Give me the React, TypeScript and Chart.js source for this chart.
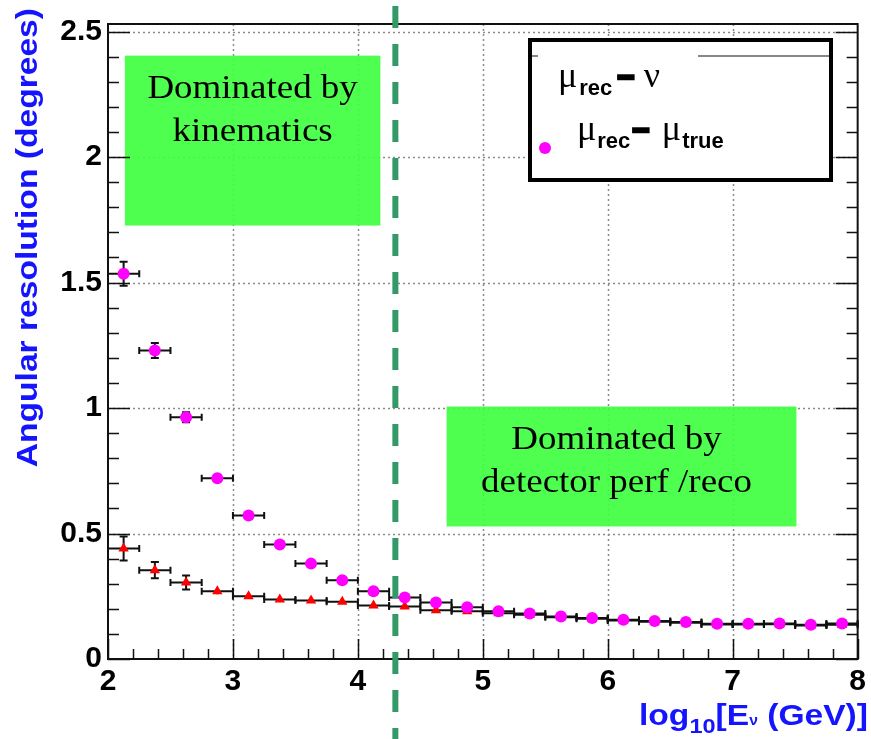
import React, { useEffect, useRef } from 'react';
import { Chart, registerables } from 'chart.js';

Chart.register(...registerables);

// ---- data ----
const energyBins = [2.125, 2.375, 2.625, 2.875, 3.125, 3.375, 3.625, 3.875, 4.125, 4.375, 4.625, 4.875,
  5.125, 5.375, 5.625, 5.875, 6.125, 6.375, 6.625, 6.875, 7.125, 7.375, 7.625, 7.875];
const binHalfWidth = 0.125;
const muRecMuTrue = [1.535, 1.229, 0.963, 0.72, 0.572, 0.456, 0.38, 0.314, 0.27, 0.245, 0.225, 0.206,
  0.19, 0.181, 0.169, 0.163, 0.156, 0.151, 0.147, 0.14, 0.14, 0.141, 0.136, 0.141];
const muRecMuTrueErr = [0.048, 0.03, 0.02, 0.012, 0.01, 0.008, 0.006, 0.005, 0.005, 0.004, 0.004, 0.004,
  0.003, 0.003, 0.003, 0.003, 0.003, 0.003, 0.003, 0.003, 0.003, 0.003, 0.003, 0.003];
const muRecNu = [0.44, 0.354, 0.305, 0.27, 0.25, 0.237, 0.233, 0.228, 0.213, 0.209, 0.194, 0.19,
  0.182, 0.176, 0.166, 0.16, 0.153, 0.148, 0.144, 0.137, 0.137, 0.138, 0.133, 0.136];
const muRecNuErr = [0.048, 0.032, 0.028, 0.012, 0.01, 0.008, 0.006, 0.005, 0.005, 0.004, 0.004, 0.004,
  0.003, 0.003, 0.003, 0.003, 0.003, 0.003, 0.003, 0.003, 0.003, 0.003, 0.003, 0.003];
const xTicks = [2, 3, 4, 5, 6, 7, 8];
const yTicks = [0, 0.5, 1, 1.5, 2, 2.5];
const transitionLog10E = 4.3;
const regionLabels = [
  { lines: ['Dominated by', 'kinematics'], x0: 2.135, x1: 4.18, y0: 1.727, y1: 2.404, dx: 0 },
  { lines: ['Dominated by', 'detector perf /reco'], x0: 4.71, x1: 7.51, y0: 0.528, y1: 1.006, dx: -5 },
];

const SANS = '"Liberation Sans", Arial, Helvetica, sans-serif';
const SERIF = '"Liberation Serif", "Times New Roman", serif';
const BLUE = '#1414ff';

function stretchedText(ctx: CanvasRenderingContext2D, text: string, x: number, y: number, font: string,
  align: CanvasTextAlign, sx: number) {
  ctx.save();
  ctx.font = font;
  ctx.textAlign = align;
  ctx.textBaseline = 'alphabetic';
  ctx.translate(x, y);
  ctx.scale(sx, 1);
  ctx.fillText(text, 0, 0);
  ctx.restore();
}

type Part = { t: string; font: string; dy?: number; gap?: number; bar?: boolean };
function richWidth(ctx: CanvasRenderingContext2D, parts: Part[], sx: number) {
  let w = 0;
  for (const p of parts) {
    ctx.font = p.font;
    w += (p.gap || 0) + ctx.measureText(p.t).width * sx;
  }
  return w;
}
function richText(ctx: CanvasRenderingContext2D, parts: Part[], x: number, y: number, sx: number) {
  let cx = x;
  for (const p of parts) {
    cx += p.gap || 0;
    ctx.save();
    ctx.font = p.font;
    ctx.textAlign = 'left';
    ctx.textBaseline = 'alphabetic';
    ctx.translate(cx, y + (p.dy || 0));
    ctx.scale(sx, 1);
    ctx.fillText(p.t, 0, 0);
    if (p.bar) {
      ctx.lineWidth = 2.5;
      ctx.strokeStyle = ctx.fillStyle as string;
      ctx.strokeText(p.t, 0, 0);
    }
    ctx.restore();
    cx += ctx.measureText ? (() => { ctx.font = p.font; return ctx.measureText(p.t).width * sx; })() : 0;
  }
}

const customPlugin = {
  id: 'rootStyle',
  beforeDatasetsDraw(chart: any) {
    const { ctx, chartArea: a, scales } = chart;
    const x = scales.x, y = scales.y;
    // dotted grid
    ctx.save();
    ctx.strokeStyle = '#8a8a8a';
    ctx.lineWidth = 1.5;
    ctx.setLineDash([2, 3]);
    for (const v of xTicks) {
      if (v === xTicks[0] || v === xTicks[xTicks.length - 1]) continue;
      const px = Math.round(x.getPixelForValue(v)) + 0.5;
      ctx.beginPath(); ctx.moveTo(px, a.top); ctx.lineTo(px, a.bottom); ctx.stroke();
    }
    for (const v of yTicks) {
      if (v === 0) continue;
      const py = Math.round(y.getPixelForValue(v)) + 0.5;
      ctx.beginPath(); ctx.moveTo(a.left, py); ctx.lineTo(a.right, py); ctx.stroke();
    }
    ctx.restore();
    // green region boxes
    ctx.save();
    for (const r of regionLabels) {
      const l = x.getPixelForValue(r.x0), rr = x.getPixelForValue(r.x1);
      const t = y.getPixelForValue(r.y1), b = y.getPixelForValue(r.y0);
      ctx.fillStyle = 'rgba(64,255,64,0.92)';
      ctx.fillRect(l, t, rr - l, b - t);
      ctx.fillStyle = '#000';
      const cx = (l + rr) / 2 + r.dx;
      stretchedText(ctx, r.lines[0], cx, t + 42, '33px ' + SERIF, 'center', 1.12);
      stretchedText(ctx, r.lines[1], cx, t + 85, '33px ' + SERIF, 'center', 1.12);
    }
    ctx.restore();
  },
  beforeDatasetDraw(chart: any, args: any) {
    const { ctx, scales } = chart;
    const x = scales.x, y = scales.y;
    const ds = chart.data.datasets[args.index];
    const vals: number[] = ds.values;
    const errs: number[] = ds.errs;
    ctx.save();
    ctx.strokeStyle = '#111';
    ctx.lineWidth = 2;
    energyBins.forEach((c, i) => {
      const px0 = x.getPixelForValue(c - binHalfWidth);
      const px1 = x.getPixelForValue(c + binHalfWidth);
      const pc = x.getPixelForValue(c);
      const py = y.getPixelForValue(vals[i]);
      const pyTop = y.getPixelForValue(vals[i] + errs[i]);
      const pyBot = y.getPixelForValue(vals[i] - errs[i]);
      ctx.beginPath();
      ctx.moveTo(px0, py); ctx.lineTo(px1, py);
      ctx.moveTo(px0, py - 3.5); ctx.lineTo(px0, py + 3.5);
      ctx.moveTo(px1, py - 3.5); ctx.lineTo(px1, py + 3.5);
      ctx.moveTo(pc, pyTop); ctx.lineTo(pc, pyBot);
      if (py - pyTop > 5) {
        ctx.moveTo(pc - 4, pyTop); ctx.lineTo(pc + 4, pyTop);
        ctx.moveTo(pc - 4, pyBot); ctx.lineTo(pc + 4, pyBot);
      }
      ctx.stroke();
    });
    ctx.restore();
  },
  afterDatasetsDraw(chart: any) {
    const { ctx, chartArea: a, scales } = chart;
    const x = scales.x, y = scales.y;
    ctx.save();
    // frame
    ctx.strokeStyle = '#111';
    ctx.lineWidth = 2;
    ctx.strokeRect(a.left, a.top, a.right - a.left, a.bottom - a.top);
    // tick marks (inward)
    ctx.lineWidth = 1.5;
    ctx.beginPath();
    const xMin = xTicks[0], xMax = xTicks[xTicks.length - 1];
    for (let k = 0; k <= (xMax - xMin) * 5; k++) {
      const v = xMin + k / 5;
      const px = Math.round(x.getPixelForValue(v)) + 0.5;
      const len = k % 5 === 0 ? 20 : 10;
      ctx.moveTo(px, a.bottom); ctx.lineTo(px, a.bottom - len);
    }
    const yMax = yTicks[yTicks.length - 1];
    for (let k = 0; k <= Math.round(yMax * 10); k++) {
      const v = k / 10;
      const py = Math.round(y.getPixelForValue(v)) + 0.5;
      const len = k % 5 === 0 ? 22 : 11;
      ctx.moveTo(a.left, py); ctx.lineTo(a.left + len, py);
      ctx.moveTo(a.right, py); ctx.lineTo(a.right - len, py);
    }
    ctx.stroke();

    // green dashed transition line
    const dxp = x.getPixelForValue(transitionLog10E);
    ctx.strokeStyle = '#339966';
    ctx.lineWidth = 6;
    ctx.setLineDash([22, 16]);
    ctx.beginPath();
    ctx.moveTo(dxp, 6); ctx.lineTo(dxp, chart.height);
    ctx.stroke();
    ctx.setLineDash([]);

    // legend box
    const lx = a.left + 422, ly = a.top + 16, lw = 301, lh = 140;
    ctx.fillStyle = '#fff';
    ctx.fillRect(lx, ly, lw, lh);
    ctx.strokeStyle = '#888';
    ctx.lineWidth = 2;
    ctx.beginPath();
    ctx.moveTo(lx, ly + 16); ctx.lineTo(lx + 8, ly + 16);
    ctx.moveTo(lx + 168, ly + 16); ctx.lineTo(lx + lw, ly + 16);
    ctx.stroke();
    ctx.strokeStyle = '#000';
    ctx.lineWidth = 4;
    ctx.strokeRect(lx, ly, lw, lh);
    ctx.fillStyle = '#000';
    const greek = '36px ' + SERIF;
    const sub = 'bold 22px ' + SANS;
    const minus = 'bold 30px ' + SANS;
    richText(ctx, [
      { t: 'μ', font: greek },
      { t: 'rec', font: sub, dy: 8, gap: 2 },
      { t: '−', font: minus, gap: 5, bar: true },
      { t: 'ν', font: greek, gap: 9 },
    ], lx + 28, ly + 47, 1);
    ctx.fillStyle = '#ff00ff';
    ctx.beginPath();
    ctx.arc(lx + 15, ly + 108, 6, 0, Math.PI * 2);
    ctx.fill();
    ctx.fillStyle = '#000';
    richText(ctx, [
      { t: 'μ', font: greek },
      { t: 'rec', font: sub, dy: 8, gap: 1 },
      { t: '−', font: minus, gap: 2, bar: true },
      { t: 'μ', font: greek, gap: 12 },
      { t: 'true', font: sub, dy: 8, gap: 1 },
    ], lx + 47, ly + 100, 1);

    // axis titles
    ctx.fillStyle = BLUE;
    const xt: Part[] = [
      { t: 'log', font: 'bold 30px ' + SANS },
      { t: '10', font: 'bold 21px ' + SANS, dy: 8 },
      { t: '[E', font: 'bold 30px ' + SANS },
      { t: 'ν', font: 'bold 14px ' + SANS, dy: 0 },
      { t: ' (GeV)]', font: 'bold 30px ' + SANS },
    ];
    const w = richWidth(ctx, xt, 1.12);
    richText(ctx, xt, 868 - w, 725, 1.12);

    ctx.save();
    ctx.translate(37, 8);
    ctx.rotate(-Math.PI / 2);
    ctx.font = 'bold 30px ' + SANS;
    ctx.textAlign = 'right';
    ctx.textBaseline = 'alphabetic';
    ctx.scale(1.12, 1);
    ctx.fillText('Angular resolution (degrees)', 0, 0);
    ctx.restore();

    ctx.restore();
  },
};

export default function App() {
  const ref = useRef<HTMLCanvasElement | null>(null);
  useEffect(() => {
    document.body.style.margin = '0';
    const canvas = ref.current;
    if (!canvas) return;
    const tickFont = { family: SANS, size: 30, weight: 'bold' as const };
    const chart = new Chart(canvas, {
      type: 'scatter',
      data: {
        datasets: [
          {
            label: 'μrec − μtrue',
            data: energyBins.map((e, i) => ({ x: e, y: muRecMuTrue[i] })),
            values: muRecMuTrue,
            errs: muRecMuTrueErr,
            pointStyle: 'circle',
            pointRadius: 6,
            pointHoverRadius: 6,
            backgroundColor: '#ff00ff',
            borderColor: '#ff00ff',
            borderWidth: 0,
          } as any,
          {
            label: 'μrec − ν',
            data: energyBins.map((e, i) => ({ x: e, y: muRecNu[i] })),
            values: muRecNu,
            errs: muRecNuErr,
            pointStyle: 'triangle',
            pointRadius: 6,
            pointHoverRadius: 6,
            backgroundColor: '#ff0000',
            borderColor: '#ff0000',
            borderWidth: 0,
          } as any,
        ],
      },
      options: {
        animation: false,
        responsive: false,
        devicePixelRatio: 1,
        layout: { padding: { top: 24, right: 12, left: 0, bottom: 0 } },
        plugins: { legend: { display: false }, tooltip: { enabled: false } },
        scales: {
          x: {
            type: 'linear',
            min: xTicks[0],
            max: xTicks[xTicks.length - 1],
            grid: { display: false, drawTicks: false },
            border: { display: false },
            afterBuildTicks: (s: any) => { s.ticks = xTicks.map((v) => ({ value: v })); },
            afterFit: (s: any) => { s.height = 80; },
            ticks: {
              autoSkip: false, maxRotation: 0, padding: 5, color: '#000', font: tickFont,
              callback: (v: any) => String(v),
            },
          },
          y: {
            type: 'linear',
            min: 0,
            max: 2.53,
            grid: { display: false, drawTicks: false },
            border: { display: false },
            afterBuildTicks: (s: any) => { s.ticks = yTicks.map((v) => ({ value: v })); },
            afterFit: (s: any) => { s.width = 108; },
            ticks: {
              autoSkip: false, padding: 6, color: '#000', font: tickFont,
              callback: (v: any) => String(v),
            },
          },
        },
      },
      plugins: [customPlugin],
    } as any);
    return () => chart.destroy();
  }, []);
  return (
    <div style={{ width: 871, height: 739, background: '#fff' }}>
      <canvas ref={ref} width={871} height={739} />
    </div>
  );
}
